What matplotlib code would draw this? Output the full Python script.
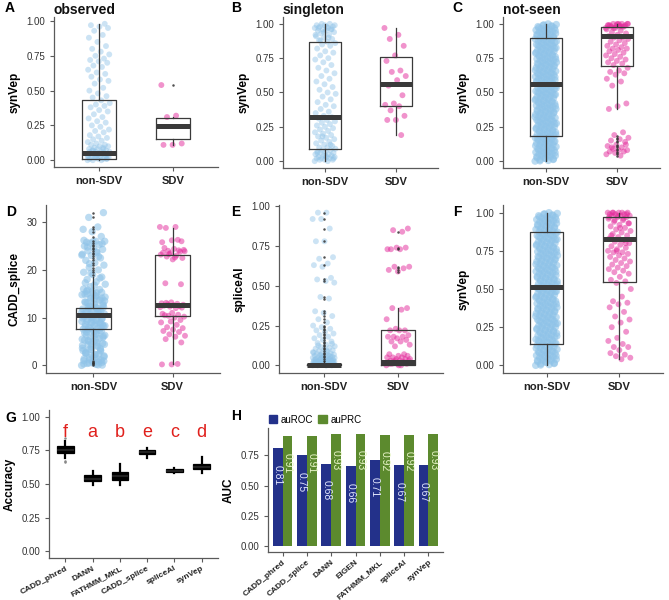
import matplotlib
matplotlib.use("Agg")
import matplotlib.pyplot as plt
from matplotlib.patches import Patch

plt.rcParams['font.family'] = ['Liberation Sans', 'DejaVu Sans']

# ---------------- data ----------------
groups = ["non-SDV", "SDV"]

A_non = [0.00,0.00,0.00,0.01,0.01,0.01,0.01,0.02,0.02,0.02,0.02,0.03,0.03,0.03,0.04,0.04,0.04,0.05,0.05,0.05,
         0.06,0.06,0.06,0.07,0.07,0.08,0.08,0.09,0.09,0.10,0.10,0.11,0.11,0.12,0.13,0.14,0.15,0.16,0.17,0.18,
         0.20,0.21,0.22,0.24,0.25,0.27,0.28,0.30,0.31,0.33,0.35,0.36,0.38,0.39,0.40,0.41,0.43,0.45,0.46,0.48,
         0.50,0.52,0.55,0.57,0.58,0.60,0.62,0.63,0.65,0.67,0.68,0.70,0.71,0.72,0.73,0.75,0.76,0.78,0.80,0.82,
         0.85,0.88,0.90,0.93,0.95,0.96,0.97,0.98,0.02,0.03,0.05,0.07,0.01,0.04,0.06,0.08]
A_sdv = [0.54, 0.32, 0.31, 0.12, 0.11, 0.11]
A_stats = [dict(q1=0.01, med=0.055, q3=0.435, whislo=0.0, whishi=0.98, fliers=[]),
           dict(q1=0.15, med=0.245, q3=0.30, whislo=0.11, whishi=0.31, fliers=[0.54])]

B_non = [0.00,0.00,0.01,0.01,0.01,0.02,0.02,0.02,0.03,0.03,0.03,0.04,0.04,0.05,0.05,0.06,0.06,0.07,0.07,0.08,
         0.08,0.09,0.10,0.10,0.11,0.12,0.13,0.14,0.15,0.16,0.17,0.18,0.19,0.20,0.21,0.22,0.23,0.24,0.25,0.26,
         0.27,0.28,0.29,0.30,0.31,0.32,0.33,0.35,0.36,0.38,0.40,0.41,0.43,0.45,0.47,0.49,0.50,0.52,0.54,0.56,
         0.58,0.60,0.62,0.64,0.66,0.68,0.70,0.72,0.74,0.75,0.77,0.79,0.80,0.82,0.84,0.85,0.86,0.87,0.88,0.89,
         0.90,0.91,0.92,0.93,0.94,0.95,0.95,0.96,0.96,0.97,0.97,0.98,0.98,0.99,0.99,1.00,1.00,0.99,0.98,0.97,
         0.96,0.94,0.92,0.90,0.88,0.02,0.04,0.06,0.12,0.18]
B_sdv = [0.97,0.92,0.89,0.84,0.77,0.73,0.66,0.65,0.62,0.59,0.55,0.48,0.42,0.41,0.40,0.37,0.33,0.30,0.30,0.19]
B_stats = [dict(q1=0.085, med=0.32, q3=0.865, whislo=0.0, whishi=1.0, fliers=[]),
           dict(q1=0.40, med=0.565, q3=0.76, whislo=0.19, whishi=0.97, fliers=[])]

C_non = [0.000,0.005,0.010,0.015,0.020,0.025,0.030,0.035,0.040,0.045,0.050,0.055,0.060,0.065,0.070,0.075,
         0.080,0.085,0.090,0.095,0.100,0.105,0.110,0.115,0.120,0.125,0.130,0.135,0.140,0.145,0.150,0.155,
         0.160,0.165,0.170,0.175,0.180,0.185,0.190,0.195,0.200,0.205,0.210,0.215,0.220,0.225,0.230,0.235,
         0.240,0.245,0.250,0.255,0.260,0.265,0.270,0.275,0.280,0.285,0.290,0.295,0.300,0.305,0.310,0.315,
         0.320,0.325,0.330,0.335,0.340,0.345,0.350,0.355,0.360,0.365,0.370,0.375,0.380,0.385,0.390,0.395,
         0.400,0.405,0.410,0.415,0.420,0.425,0.430,0.435,0.440,0.445,0.450,0.455,0.460,0.465,0.470,0.475,
         0.480,0.485,0.490,0.495,0.500,0.505,0.510,0.515,0.520,0.525,0.530,0.535,0.540,0.545,0.550,0.555,
         0.560,0.565,0.570,0.575,0.580,0.585,0.590,0.595,0.600,0.605,0.610,0.615,0.620,0.625,0.630,0.635,
         0.640,0.645,0.650,0.655,0.660,0.665,0.670,0.675,0.680,0.685,0.690,0.695,0.700,0.705,0.710,0.715,
         0.720,0.725,0.730,0.735,0.740,0.745,0.750,0.755,0.760,0.765,0.770,0.775,0.780,0.785,0.790,0.795,
         0.800,0.805,0.810,0.815,0.820,0.825,0.830,0.835,0.840,0.845,0.850,0.855,0.860,0.865,0.870,0.875,
         0.880,0.885,0.890,0.895,0.900,0.905,0.910,0.915,0.920,0.925,0.930,0.935,0.940,0.945,0.950,0.955,
         0.960,0.965,0.970,0.975,0.980,0.985,0.990,0.995,1.000,
         0.002,0.012,0.022,0.032,0.042,0.052,0.062,0.072,0.082,0.092,0.102,0.112,0.122,0.132,0.142,0.152,
         0.162,0.172,0.182,0.192,0.202,0.212,0.222,0.232,0.242,0.252,0.262,0.272,0.282,0.292,0.302,0.312,
         0.322,0.332,0.342,0.352,0.362,0.372,0.382,0.392,0.402,0.412,0.422,0.432,0.442,0.452,0.462,0.472,
         0.482,0.492,0.502,0.512,0.522,0.532,0.542,0.552,0.562,0.572,0.582,0.592,0.602,0.612,0.622,0.632,
         0.642,0.652,0.662,0.672,0.682,0.692,0.702,0.712,0.722,0.732,0.742,0.752,0.762,0.772,0.782,0.792,
         0.802,0.812,0.822,0.832,0.842,0.852,0.862,0.872,0.882,0.892,0.902,0.912,0.922,0.932,0.942,0.952,
         0.962,0.972,0.982,0.992]
C_sdv = [0.97,0.98,0.98,0.99,0.99,0.99,1.00,1.00,1.00,1.00,0.99,0.98,0.97,0.96,0.95,0.94,0.93,0.92,0.91,0.90,
         0.90,0.89,0.88,0.87,0.86,0.85,0.84,0.83,0.82,0.82,0.81,0.80,0.79,0.78,0.77,0.76,0.75,0.74,0.73,0.72,
         0.71,0.70,0.68,0.66,0.65,0.64,0.63,0.60,0.58,0.55,0.42,0.40,0.38,0.21,0.19,0.17,0.16,0.15,0.14,0.12,
         0.11,0.10,0.09,0.08,0.08,0.07,0.07,0.06,0.05,0.04,0.10,0.12,1.00,0.99,0.98,0.97,1.00,0.99]
C_stats = [dict(q1=0.18, med=0.56, q3=0.895, whislo=0.0, whishi=1.0, fliers=[]),
           dict(q1=0.695, med=0.91, q3=0.98, whislo=0.38, whishi=1.0,
                fliers=[0.18,0.17,0.16,0.15,0.14,0.12,0.11,0.10,0.09,0.08,0.07,0.06,0.05,0.04])]

D_non = [0.0,0.2,0.4,0.6,0.8,1.0,1.3,1.6,2.0,2.3,2.6,3.0,3.3,3.6,4.0,4.3,4.6,5.0,5.3,5.6,6.0,6.3,6.6,7.0,7.2,
         7.4,7.6,7.8,8.0,8.2,8.4,8.6,8.8,9.0,9.2,9.4,9.6,9.8,10.0,10.2,10.4,10.6,10.8,11.0,11.2,11.4,11.6,11.8,
         12.0,12.3,12.6,13.0,13.3,13.6,14.0,14.3,14.6,15.0,15.3,15.6,16.0,0.1,0.5,0.9,1.5,2.5,3.5,4.5,5.5,6.5,
         7.5,8.5,9.5,10.5,11.5,12.5,13.5,14.5,15.5,1.1,2.1,3.1,4.1,5.1,6.1,7.1,8.1,9.1,10.1,11.1,12.1,13.1,14.1,
         15.1,0.3,0.7,1.2,1.8,2.2,2.8,3.2,3.8,4.2,4.8,5.2,5.8,6.2,6.8,7.3,7.7,8.3,8.7,9.3,9.7,10.3,10.7,11.3,
         11.7,12.2,12.8,13.2,13.8,14.2,14.8,15.2,15.8,0.05,0.45,1.4,2.4,3.4,4.4,5.4,6.4,7.9,8.9,9.9,10.9,11.9,
         12.9,13.9,14.9,15.9,
         16.5,17.0,17.5,18.0,18.5,19.0,19.5,20.0,20.5,21.0,21.5,22.0,22.5,23.0,23.3,23.6,24.0,24.3,24.6,
         25.0,25.3,25.6,26.0,26.0,25.8,27.0,28.0,28.5,29.0,31.0,32.0,16.8,17.3,18.3,19.3,23.1,23.8,24.8,25.5,
         25.9,26.2,22.8,21.3]
D_sdv = [29.0,29.0,28.8,26.0,26.2,25.8,26.3,24.0,24.2,24.4,24.6,23.8,23.5,23.2,23.0,22.8,22.5,22.2,23.6,24.1,
         23.3,23.9,22.6,17.2,17.0,13.2,13.0,12.9,12.8,12.7,12.6,12.5,12.4,12.3,12.2,12.0,13.1,12.1,11.0,10.8,
         10.6,10.4,10.2,10.0,10.5,9.5,9.2,9.0,8.5,8.0,7.8,7.5,7.2,7.0,6.5,6.2,6.0,5.5,4.8,0.2,0.2,0.3]
D_stats = [dict(q1=7.7, med=10.6, q3=12.0, whislo=1.3, whishi=18.5,
                fliers=[0.0,0.2,0.4,0.6,0.8,1.0,19.0,19.5,20.0,20.5,21.0,21.5,22.0,22.5,23.0,23.3,23.6,
                        24.0,24.3,24.6,25.0,25.3,25.6,26.0,27.0,28.0,28.5,29.0,31.0,32.0]),
           dict(q1=10.4, med=12.6, q3=23.1, whislo=0.2, whishi=28.8, fliers=[])]

E_non = [0.000,0.000,0.001,0.002,0.003,0.004,0.005,0.006,0.007,0.008,0.009,0.010,0.011,0.012,0.013,0.015,
         0.016,0.018,0.019,0.020,0.022,0.023,0.025,0.026,0.028,0.030,0.032,0.033,0.035,0.036,0.038,0.040,
         0.042,0.045,0.048,0.050,0.052,0.055,0.058,0.060,0.062,0.065,0.068,0.070,0.072,0.075,0.078,0.080,
         0.085,0.090,0.095,0.100,0.105,0.110,0.115,0.120,0.130,0.140,0.150,0.160,0.170,0.180,0.190,0.200,
         0.210,0.220,0.230,0.240,0.250,0.270,0.290,0.310,0.330,0.340,0.420,0.430,0.520,0.530,0.540,0.550,
         0.620,0.630,0.640,0.670,0.680,0.780,0.780,0.860,0.920,0.920,0.960,0.960,0.000,0.002,0.004,0.006,
         0.008,0.010,0.012,0.014,0.016,0.018,0.021,0.024,0.027,0.031,0.034,0.037,0.041,0.044,0.047,
         0.000,0.001,0.003,0.005,0.007,0.009,0.011,0.014,0.017,0.020,0.057,0.063,0.083,0.093,0.125,0.135]
E_sdv = [0.00,0.00,0.01,0.01,0.01,0.02,0.02,0.02,0.03,0.03,0.03,0.04,0.04,0.05,0.05,0.05,0.06,0.06,0.07,0.07,
         0.12,0.13,0.15,0.15,0.16,0.17,0.18,0.18,0.18,0.19,0.22,0.22,0.22,0.23,0.29,0.35,0.36,0.36,0.59,0.60,
         0.61,0.62,0.62,0.73,0.73,0.74,0.74,0.73,0.84,0.85,0.86,0.00,0.01,0.02,0.03,0.04]
E_stats = [dict(q1=0.0, med=0.003, q3=0.010, whislo=0.0, whishi=0.025,
                fliers=[0.03,0.04,0.05,0.06,0.07,0.08,0.09,0.10,0.11,0.12,0.13,0.14,0.15,0.16,0.17,0.18,
                        0.19,0.20,0.21,0.22,0.23,0.24,0.25,0.27,0.29,0.31,0.33,0.34,0.42,0.43,0.53,0.54,
                        0.63,0.68,0.78,0.86,0.92,0.96]),
           dict(q1=0.0, med=0.02, q3=0.22, whislo=0.0, whishi=0.36,
                fliers=[0.59,0.60,0.61,0.62,0.73,0.74,0.84])]

F_non = list(C_non)
F_sdv = [1.00,1.00,1.00,1.00,1.00,0.99,0.99,0.99,0.98,0.98,0.98,0.97,0.97,0.96,0.95,0.94,0.93,0.92,0.91,0.90,
         0.89,0.88,0.87,0.86,0.85,0.84,0.83,0.82,0.81,0.80,0.79,0.78,0.77,0.76,0.75,0.74,0.74,0.73,0.72,0.71,
         0.70,0.69,0.68,0.67,0.66,0.65,0.64,0.63,0.62,0.61,0.60,0.58,0.56,0.55,0.54,0.50,0.45,0.42,0.41,0.40,
         0.38,0.35,0.32,0.30,0.28,0.25,0.22,0.18,0.16,0.14,0.12,0.12,0.10,0.08,0.07,0.06,0.05,0.04,1.00,0.99,
         0.98,0.97,0.96,0.95,0.93,0.90,0.85,0.80,0.75]
F_stats = [dict(q1=0.14, med=0.515, q3=0.875, whislo=0.0, whishi=1.0, fliers=[]),
           dict(q1=0.545, med=0.825, q3=0.97, whislo=0.04, whishi=1.0, fliers=[])]

G_methods = ["CADD_phred", "DANN", "FATHMM_MKL", "CADD_splice", "spliceAI", "synVep"]
G_letters = ["f", "a", "b", "e", "c", "d"]
G_q1 = [0.73, 0.52, 0.53, 0.72, 0.59, 0.61]
G_med = [0.75, 0.54, 0.56, 0.74, 0.60, 0.63]
G_q3 = [0.78, 0.57, 0.59, 0.75, 0.61, 0.65]
G_lo = [0.69, 0.49, 0.49, 0.69, 0.58, 0.58]
G_hi = [0.82, 0.60, 0.65, 0.77, 0.62, 0.70]
G_fliers = [[0.66, 0.67, 0.84], [], [], [], [], []]

H_methods = ["CADD_phred", "CADD_splice", "DANN", "EIGEN", "FATHMM_MKL", "spliceAI", "synVep"]
H_auROC = [0.81, 0.75, 0.68, 0.66, 0.71, 0.67, 0.67]
H_auPRC = [0.91, 0.91, 0.93, 0.93, 0.92, 0.92, 0.93]

# ---------------- style ----------------
W, Hh = 669, 600
fig = plt.figure(figsize=(W / 100, Hh / 100), dpi=100)
AX_COL = '#5a5a5a'
BOX_COL = '#3a3a3a'
BLUE = '#8FC3E8'
PINK = '#E3289A'


def add_ax(x0, x1, y0, y1):
    return fig.add_axes([x0 / W, 1 - y1 / Hh, (x1 - x0) / W, (y1 - y0) / Hh])


def style(ax):
    for s in ['top', 'right']:
        ax.spines[s].set_visible(False)
    for s in ['left', 'bottom']:
        ax.spines[s].set_color(AX_COL)
        ax.spines[s].set_linewidth(0.9)
    ax.tick_params(colors=AX_COL, length=3, width=0.8, labelsize=7, labelcolor='#333333')


def jitter(n, w):
    return [((i * 0.6180339887) % 1 - 0.5) * 2 * w for i in range(n)]


def box_panel(ax, non, sdv, stats, ylim, yticks, yticklabels, ylabel, dense=False):
    style(ax)
    sz_non = 28 if dense else 18
    a_non = 0.6 if dense else 0.45
    jn = jitter(len(non), 0.15)
    ax.scatter([1 + j for j in jn], non, s=sz_non, color=BLUE, alpha=a_non, edgecolors='none', zorder=1)
    js = jitter(len(sdv), 0.16)
    ax.scatter([2 + j for j in js], sdv, s=18, color=PINK, alpha=0.5, edgecolors='none', zorder=1)
    ax.bxp(stats, positions=[1, 2], widths=0.45, showcaps=False, patch_artist=False,
           boxprops=dict(color=BOX_COL, linewidth=0.9),
           whiskerprops=dict(color=BOX_COL, linewidth=0.9),
           medianprops=dict(color=BOX_COL, linewidth=3.6, solid_capstyle='butt'),
           flierprops=dict(marker='o', markersize=1.8, markerfacecolor='#333333',
                           markeredgecolor='none', alpha=0.85),
           zorder=2)
    ax.set_xlim(0.4, 2.6)
    ax.set_ylim(*ylim)
    ax.set_yticks(yticks)
    ax.set_yticklabels(yticklabels)
    ax.set_xticks([1, 2])
    ax.set_xticklabels(groups, fontsize=8, fontweight='bold', color='#222222')
    ax.set_ylabel(ylabel, fontsize=8.5, fontweight='bold', labelpad=4)


yt01 = [0, 0.25, 0.5, 0.75, 1.0]
ytl01 = ["0.00", "0.25", "0.50", "0.75", "1.00"]

axA = add_ax(54, 218, 17, 167)
box_panel(axA, A_non, A_sdv, A_stats, (-0.049, 1.029), yt01, ytl01, "synVep")
axB = add_ax(283, 438, 17, 168)
box_panel(axB, B_non, B_sdv, B_stats, (-0.05, 1.05), yt01, ytl01, "synVep")
axC = add_ax(503, 660, 17, 168)
box_panel(axC, C_non, C_sdv, C_stats, (-0.05, 1.05), yt01, ytl01, "synVep", dense=True)
axD = add_ax(46, 220, 205, 373)
box_panel(axD, D_non, D_sdv, D_stats, (-1.6, 33.6), [0, 10, 20, 30], ["0", "10", "20", "30"], "CADD_splice",
          dense=True)
axE = add_ax(279, 443, 205, 373)
box_panel(axE, E_non, E_sdv, E_stats, (-0.048, 1.008), yt01, ytl01, "spliceAI")
axF = add_ax(503, 663, 205, 373)
box_panel(axF, F_non, F_sdv, F_stats, (-0.05, 1.05), yt01, ytl01, "synVep", dense=True)

for ax, t in [(axA, "observed"), (axB, "singleton"), (axC, "not-seen")]:
    ax.text(0.0, 1.0, t, transform=ax.transAxes, fontsize=10, fontweight='bold',
            ha='left', va='bottom', color='#111111')

# Panel G
axG = add_ax(49, 218, 410, 558)
style(axG)
G_stats = [dict(q1=G_q1[i], med=G_med[i], q3=G_q3[i], whislo=G_lo[i], whishi=G_hi[i], fliers=G_fliers[i])
           for i in range(len(G_methods))]
axG.bxp(G_stats, positions=range(1, len(G_methods) + 1), widths=0.6, showcaps=False, patch_artist=True,
        boxprops=dict(facecolor='black', edgecolor='black', linewidth=0.9),
        whiskerprops=dict(color='black', linewidth=1.6),
        medianprops=dict(color='#222222', linewidth=1.5),
        flierprops=dict(marker='o', markersize=1.8, markerfacecolor='#888888', markeredgecolor='none'))
for i, l in enumerate(G_letters):
    axG.text(i + 1, 0.88, l, color='#E0201C', fontsize=13, ha='center', va='center')
axG.set_xlim(0.4, len(G_methods) + 0.6)
axG.set_ylim(-0.05, 1.05)
axG.set_yticks(yt01)
axG.set_yticklabels(ytl01)
axG.set_xticks(range(1, len(G_methods) + 1))
axG.set_xticklabels(G_methods, rotation=28, ha='right', rotation_mode='anchor',
                    fontsize=6, fontweight='bold', color='#222222')
axG.tick_params(axis='x', pad=2)
axG.set_ylabel("Accuracy", fontsize=8.5, fontweight='bold', labelpad=4)

# Panel H
axH = add_ax(268, 443, 428, 552)
style(axH)
xs = list(range(1, len(H_methods) + 1))
bw = 0.4
axH.bar([x - bw / 2 for x in xs], H_auROC, width=bw, color='#23318A', label='auROC')
axH.bar([x + bw / 2 for x in xs], H_auPRC, width=bw, color='#5C8A2E', label='auPRC')
for x, v in zip(xs, H_auROC):
    axH.text(x - bw / 2, v - 0.22, f"{v:.2f}", rotation=-90, ha='center', va='center',
             fontsize=7.5, color='#E4E8FF')
for x, v in zip(xs, H_auPRC):
    axH.text(x + bw / 2, v - 0.22, f"{v:.2f}", rotation=-90, ha='center', va='center',
             fontsize=7.5, color='#E8F5C8')
axH.set_xlim(0.4, len(H_methods) + 0.6)
axH.set_ylim(-0.0465, 0.9765)
axH.set_yticks([0, 0.25, 0.5, 0.75])
axH.set_yticklabels(["0.00", "0.25", "0.50", "0.75"])
axH.set_xticks(xs)
axH.set_xticklabels(H_methods, rotation=40, ha='right', rotation_mode='anchor',
                    fontsize=6, fontweight='bold', color='#222222')
axH.tick_params(axis='x', pad=2)
axH.set_ylabel("AUC", fontsize=8.5, fontweight='bold', labelpad=4)
axH.legend(handles=[Patch(color='#23318A', label='auROC'), Patch(color='#5C8A2E', label='auPRC')],
           ncol=2, loc='lower left', bbox_to_anchor=(-0.03, 0.98), frameon=False, fontsize=7,
           handlelength=0.9, handleheight=0.9, handletextpad=0.3, columnspacing=0.6, borderaxespad=0.2)

# Panel letters
for lab, x, y in [("A", 10, 8), ("B", 236, 8), ("C", 457, 8), ("D", 11, 212), ("E", 236, 212),
                  ("F", 457, 212), ("G", 11, 418), ("H", 236, 416)]:
    fig.text(x / W, 1 - y / Hh, lab, fontsize=10, fontweight='bold', ha='center', va='center')

fig.savefig("out.png", dpi=100, facecolor='white')
